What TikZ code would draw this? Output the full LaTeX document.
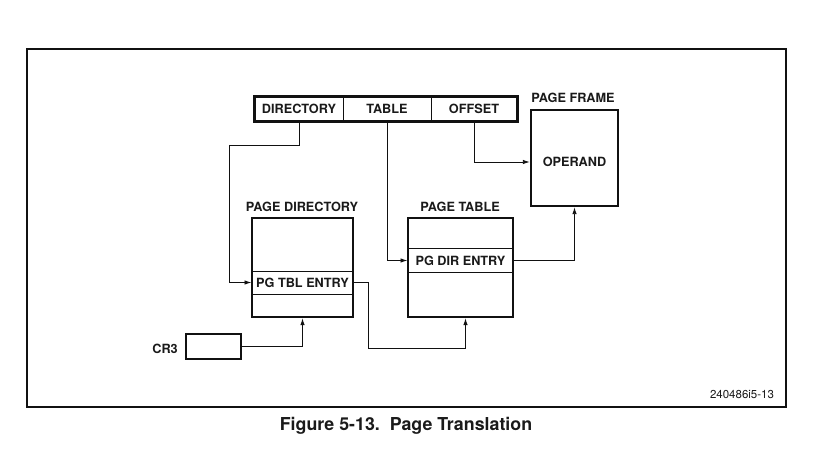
\documentclass[tikz,border=0pt]{standalone}
\usepackage{fontspec}
\setmainfont{TeX Gyre Heros}
\usetikzlibrary{arrows.meta}
\definecolor{couleurtrait}{HTML}{111111}
\definecolor{couleurtext}{HTML}{1A1A1A}
\newcommand{\lienvh}[2]{\draw[lien] (#1) |- (#2);}
\newcommand{\lienhv}[2]{\draw[lien] (#1) -| (#2);}
\tikzset{
		basic/.style={draw=couleurtrait, inner sep=0pt, text=couleurtext, font=\fontsize{12.7}{12}\selectfont\bfseries},
		cadre/.style={draw=couleurtrait, line width=1.8pt, inner sep=0pt},
		boite/.style={basic, line width=2.4pt},
		champ/.style={basic, line width=1pt, minimum height=24pt},
		entree/.style={basic, line width=1pt, minimum height=23pt},
		titre/.style={basic, draw=none},
		lien/.style={draw=couleurtrait, line width=0.9pt, -{Latex[length=7pt,width=4.5pt]}}
	}
\begin{document}
\begin{tikzpicture}[x=1pt, y=-1pt]
		\useasboundingbox (0,0) rectangle (832,462);
		% cadre
		\node[cadre, minimum width=759pt, minimum height=358pt] (cadre) at (406.5,228) {};
		
		% registre lineaire
		\node[champ, minimum width=88pt] (regdir) at (299,109) {DIRECTORY};
		\node[champ, minimum width=88pt] (regtab) at (387,109) {TABLE};
		\node[champ, minimum width=86pt] (regoff) at (474,109) {OFFSET};
		\draw[line width=2.4pt, couleurtrait] (regdir.north west) rectangle (regoff.south east);
		
		% page directory
		\node[titre] (titrdir) at (302,207) {PAGE DIRECTORY};
		\node[entree, minimum width=101pt] (tblentry) at (302.5,282.5) {PG TBL ENTRY};
		\node[boite, minimum width=101pt, minimum height=99pt] (pgdir) at (302.5,267.5) {};
		
		% page table
		\node[titre] (titrtab) at (460,207) {PAGE TABLE};
		\node[entree, minimum width=105pt] (direntry) at (460.5,260.5) {PG DIR ENTRY};
		\node[boite, minimum width=105pt, minimum height=99pt] (pgtab) at (460.5,267.5) {};
		
		% page frame
		\node[titre] (titrfram) at (573,98) {PAGE FRAME};
		\node[boite, minimum width=87pt, minimum height=96pt] (pgframe) at (574.5,158) {};
		\node[titre] (operand) at (574.5,162) {OPERAND};
		
		% CR3
		\node[boite, line width=2pt, minimum width=55pt, minimum height=25pt] (cr3box) at (213.5,346.5) {};
		\node[titre, anchor=east] (cr3) at (178,349) {CR3};
		
		% textes
		\node[titre, font=\fontsize{11.5}{12}\selectfont] (numfig) at (742,395) {240486i5-13};
		\node[titre, font=\fontsize{17.8}{18}\selectfont\bfseries] (legende) at (406,426) {Figure 5-13.\ \ Page Translation};
		
		% Liens
		\coordinate (dirturn) at (229,145);
		\coordinate (tblturn) at (368,348);
		\draw[lien, -] (regdir.south) |- (dirturn);
		\lienvh{dirturn}{tblentry.west}
		\lienvh{regtab.south}{direntry.west}
		\lienvh{regoff.south}{pgframe.west |- operand}
		\lienhv{direntry.east}{pgframe.south}
		\draw[lien, -] (tblentry.east) -| (tblturn);
		\lienhv{tblturn}{[xshift=5pt]pgtab.south}
		\lienhv{cr3box.east}{pgdir.south}
	\end{tikzpicture}
\end{document}
